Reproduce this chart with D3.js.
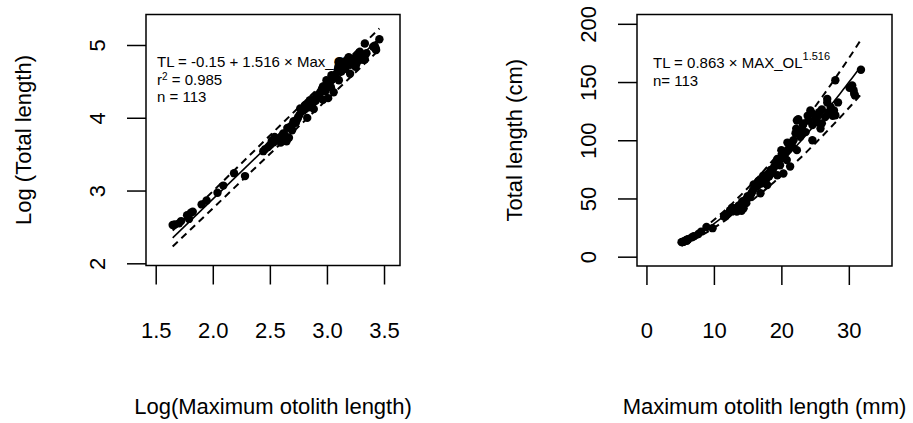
<!DOCTYPE html>
<html><head><meta charset="utf-8">
<script src="https://cdn.jsdelivr.net/npm/d3@7"></script>
<style>
body{margin:0;background:#fff}
svg{display:block}
text{font-family:"Liberation Sans",Arial,Helvetica,sans-serif;fill:#000}
</style>
</head><body>
<svg id="c" width="913" height="423"></svg>
<script>
// Maximum otolith length (mm) and total length (cm)
const otolithLength = [
 5.2,5.3,5.5,5.6,5.9,6.0,6.1,6.2,6.7,7.0,7.7,8.1,8.9,9.8,
 11.5,11.7,12.0,12.2,12.3,12.4,12.6,12.7,13.0,13.2,13.4,13.5,13.7,13.9,14.1,14.2,14.4,14.6,14.8,14.9,15.0,15.3,15.5,15.6,15.8,15.9,
 16.3,16.6,16.6,16.9,17.1,17.3,17.4,17.6,17.8,17.9,18.0,18.2,18.4,18.4,18.7,18.9,19.0,19.2,19.4,19.4,19.6,19.8,20.0,20.0,20.3,20.3,20.6,20.8,20.9,21.0,21.3,21.5,21.6,21.8,
 22.1,22.2,22.3,22.3,22.5,22.8,23.0,23.2,23.3,23.6,23.9,24.0,24.3,24.5,24.6,24.6,25.0,25.3,25.3,25.6,25.8,26.0,26.0,26.5,26.8,26.8,27.0,27.3,27.6,27.8,28.0,28.0,28.4,
 30.1,30.5,30.7,30.8,30.9,31.8
];
const totalLength = [
 12.5,12.6,12.8,13.2,14.3,13.6,14.8,15.0,16.6,17.5,19.5,21.5,25.5,24.5,
 34.5,35.5,36.5,37.5,38.0,40.0,39.0,42.0,41.0,40.5,38.8,42.5,44.0,43.0,39.5,47.5,41.5,48.5,46.0,50.0,52.0,51.0,53.5,55.0,57.0,62.0,
 60.0,61.5,65.0,54.5,63.0,69.5,66.0,65.0,67.0,61.5,71.0,69.0,73.0,74.5,72.0,76.5,78.0,80.0,84.0,70.0,83.0,78.5,91.5,86.0,88.5,71.5,89.5,83.0,98.0,92.0,77.5,96.0,94.5,100.0,
 106.0,110.0,91.5,117.0,118.0,103.0,108.0,113.0,114.5,107.0,121.0,117.0,125.5,123.5,113.0,100.0,119.0,121.5,115.5,124.0,110.0,114.5,126.5,120.0,132.5,135.5,124.0,128.5,121.0,125.5,121.5,151.5,132.5,
 145.0,147.0,143.0,140.0,138.5,160.5
];
// regression coefficients (log scale): [intercept, slope]
const fitCoef = [-0.15, 1.516];
const upperCoef = [-0.079, 1.534];
const lowerCoef = [-0.235, 1.495];
const powerA = 0.863, powerB = 1.516;
// ticks
const xTicksLog = [1.5, 2.0, 2.5, 3.0, 3.5];
const yTicksLog = [2, 3, 4, 5];
const xTicksRaw = [0, 10, 20, 30];
const yTicksRaw = [0, 50, 100, 150, 200];

const svg = d3.select("#c");
const pts = otolithLength.map((d, i) => ({ol: d, tl: totalLength[i]}));
const olExt = d3.extent(otolithLength);

function panel(cfg) {
  const {l, t, r, b} = cfg.box;
  const x = d3.scaleLinear().domain(cfg.xDomain).range([l, r]);
  const y = d3.scaleLinear().domain(cfg.yDomain).range([b, t]);
  const g = svg.append("g");

  // axes
  const ax = g.append("g").attr("transform", `translate(0,${b})`)
    .call(d3.axisBottom(x).tickValues(cfg.xTicks).tickSize(19).tickFormat(cfg.xFmt));
  ax.select(".domain").remove();
  ax.selectAll(".tick line").attr("stroke", "#000").attr("stroke-width", 1.5);
  ax.selectAll(".tick text").attr("y", 72).attr("dy", null)
    .attr("font-size", 22).attr("font-family", null).attr("fill", "#000");

  const ay = g.append("g").attr("transform", `translate(${l},0)`)
    .call(d3.axisLeft(y).tickValues(cfg.yTicks).tickSize(19).tickFormat(d3.format("d")));
  ay.select(".domain").remove();
  ay.selectAll(".tick line").attr("stroke", "#000").attr("stroke-width", 1.5);
  ay.selectAll(".tick text").attr("x", 0).attr("y", -41.5).attr("dy", null)
    .attr("transform", "rotate(-90)").attr("text-anchor", "middle")
    .attr("font-size", 22).attr("font-family", null).attr("fill", "#000");

  // titles
  g.append("text").attr("x", (l + r) / 2).attr("y", b + 148)
    .attr("text-anchor", "middle").attr("font-size", 22).text(cfg.xTitle);
  g.append("text").attr("transform", `translate(${l - 115},${(t + b) / 2}) rotate(-90)`)
    .attr("text-anchor", "middle").attr("font-size", 22).text(cfg.yTitle);

  // annotation
  cfg.annot(g, l + (cfg.annotDx), t);

  // lines
  const line = d3.line().x(d => x(d[0])).y(d => y(d[1]));
  cfg.curves.forEach(c => {
    g.append("path").attr("d", line(c.data)).attr("fill", "none")
      .attr("stroke", "#000").attr("stroke-width", c.dash ? 2 : 1.6)
      .attr("stroke-dasharray", c.dash ? "7,5" : null);
  });

  // points
  g.append("g").selectAll("circle").data(pts).join("circle")
    .attr("cx", d => x(cfg.px(d))).attr("cy", d => y(cfg.py(d)))
    .attr("r", 4.2).attr("fill", "#000");

  // box
  g.append("rect").attr("x", l).attr("y", t).attr("width", r - l).attr("height", b - t)
    .attr("fill", "none").attr("stroke", "#000").attr("stroke-width", 1.5);
}

// Left: log-log
const lx = [Math.log(olExt[0]), Math.log(olExt[1])];
panel({
  box: {l: 146, t: 14.5, r: 400, b: 265.5},
  xDomain: [1.415, 3.64], yDomain: [1.97, 5.419],
  xTicks: xTicksLog, yTicks: yTicksLog, xFmt: d3.format(".1f"),
  xTitle: "Log(Maximum otolith length)", yTitle: "Log (Total length)",
  px: d => Math.log(d.ol), py: d => Math.log(d.tl),
  curves: [
    {data: lx.map(v => [v, fitCoef[0] + fitCoef[1] * v]), dash: false},
    {data: lx.map(v => [v, upperCoef[0] + upperCoef[1] * v]), dash: true},
    {data: lx.map(v => [v, lowerCoef[0] + lowerCoef[1] * v]), dash: true}
  ],
  annotDx: 11,
  annot: (g, ax, t) => {
    const tx = g.append("text").attr("font-size", 15);
    tx.append("tspan").attr("x", ax).attr("y", t + 52.5).text("TL = -0.15 + 1.516 \u00d7 Max_OL");
    const r2 = g.append("text").attr("font-size", 15).attr("x", ax).attr("y", t + 70);
    r2.append("tspan").text("r");
    r2.append("tspan").attr("font-size", 10).attr("dy", -5).text("2");
    r2.append("tspan").attr("dy", 5).text(" = 0.985");
    g.append("text").attr("font-size", 15).attr("x", ax).attr("y", t + 87).text("n = 113");
  }
});

// Right: raw scale
const rx = d3.range(0, 61).map(i => olExt[0] + (olExt[1] - olExt[0]) * i / 60);
panel({
  box: {l: 637, t: 14.5, r: 892, b: 266},
  xDomain: [-1.4, 36.4], yDomain: [-8, 208],
  xTicks: xTicksRaw, yTicks: yTicksRaw, xFmt: d3.format("d"),
  xTitle: "Maximum otolith length (mm)", yTitle: "Total length (cm)",
  px: d => d.ol, py: d => d.tl,
  curves: [
    {data: rx.map(v => [v, powerA * Math.pow(v, powerB)]), dash: false},
    {data: rx.map(v => [v, Math.exp(upperCoef[0]) * Math.pow(v, upperCoef[1])]), dash: true},
    {data: rx.map(v => [v, Math.exp(lowerCoef[0]) * Math.pow(v, lowerCoef[1])]), dash: true}
  ],
  annotDx: 16,
  annot: (g, ax, t) => {
    const tx = g.append("text").attr("font-size", 15).attr("x", ax).attr("y", t + 53.5);
    tx.append("tspan").text("TL = 0.863 \u00d7 MAX_OL");
    tx.append("tspan").attr("font-size", 11).attr("dy", -8).text("1.516");
    g.append("text").attr("font-size", 15).attr("x", ax).attr("y", t + 71.5).text("n= 113");
  }
});
</script>
</body></html>
